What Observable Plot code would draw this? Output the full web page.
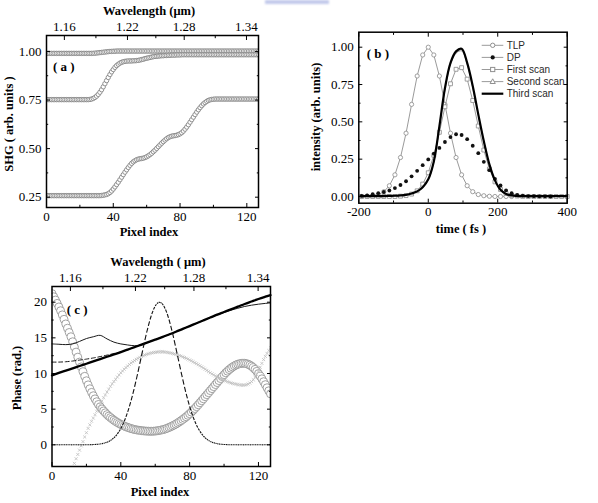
<!DOCTYPE html>
<html>
<head>
<meta charset="utf-8">
<script src="https://cdn.jsdelivr.net/npm/d3@7"></script>
<script src="https://cdn.jsdelivr.net/npm/@observablehq/plot@0.6"></script>
<style>
  body { margin: 0; background: #fff; }
  #page { position: relative; width: 598px; height: 503px; overflow: hidden; background: #fff; font-family: "Liberation Serif", serif; }
  #page svg { position: absolute; overflow: visible; background: transparent; }
  #page svg.panel { color: #000; }
  #page svg.panel text { font-family: "Liberation Serif", serif !important; font-size: 13px !important; fill: #000; }
  .t { position: absolute; white-space: nowrap; line-height: 1; color: #000; font-weight: bold; font-family: "Liberation Serif", serif; }
  .mark-stamp { position: absolute; left: 265px; top: 0; width: 64px; height: 4px; background: #b3bce6; filter: blur(1px); opacity: 0.8; }
</style>
</head>
<body>
<div id="page"><div class="mark-stamp"></div></div>
<script>
// ---------- shared axis data ----------
const pixelIndex = d3.range(128);
const wavelengthLabels = [1.16, 1.22, 1.28, 1.34];
const wavelengthAtIndex = [10.7, 48.5, 82.5, 119.8];
const wavelengthMinorAtIndex = [29.6, 65.5, 101.1];

// ---------- panel (a): SHG vs pixel index ----------
const shgTop = [
  0.99,0.99,0.99,0.99,0.99,0.99,0.99,0.99,0.99,0.99,
  0.99,0.99,0.99,0.99,0.99,0.99,0.99,0.99,0.99,0.99,
  0.99,0.99,0.99,0.99,0.99,0.99,0.99,0.99,
  0.9905,0.991,0.992,0.993,0.994,0.995,0.996,0.997,0.998,0.999,1.0,1.0,1.001,1.001,1.002,1.002,
  1.002,1.002,1.002,1.002,1.002,1.002,1.002,1.002,1.002,1.002,
  1.002,1.002,1.002,1.002,1.002,1.002,1.002,1.002,1.002,1.002,
  1.002,1.002,1.002,1.002,1.002,1.002,1.002,1.002,1.002,1.002,
  1.002,1.002,1.002,1.002,1.002,1.002,1.002,1.002,1.002,1.002,
  1.002,1.002,1.002,1.002,1.002,1.002,1.002,1.002,1.002,1.002,
  1.002,1.002,1.002,1.002,1.002,1.002,1.002,1.002,1.002,1.002,
  1.002,1.002,1.002,1.002,1.002,1.002,1.002,1.002,1.002,1.002,
  1.002,1.002,1.002,1.002,1.002,1.002,1.002,1.002,1.002,1.002,
  1.002,1.002,1.002,1.002
];
const shgMiddle = [
  0.752,0.752,0.752,0.752,0.752,0.752,0.752,0.752,0.752,0.752,
  0.752,0.752,0.752,0.752,0.752,0.752,0.752,0.752,0.752,0.752,
  0.752,0.752,0.752,0.752,0.752,0.752,
  0.753,0.755,0.758,0.763,0.77,0.779,0.79,0.803,0.818,0.834,
  0.85,0.866,0.881,0.895,0.907,0.918,0.927,0.934,0.94,0.944,
  0.947,0.949,0.95,0.951,0.951,0.951,0.952,0.952,0.953,0.954,
  0.956,0.958,0.96,0.963,0.965,0.967,0.969,0.971,0.973,0.974,
  0.975,0.976,0.977,0.978,0.978,0.979,0.979,0.98,0.98,0.981,
  0.981,0.981,0.982,0.982,0.982,
  0.983,0.983,0.983,0.983,0.983,0.983,0.983,0.983,0.983,0.983,
  0.983,0.983,0.983,0.983,0.983,0.983,0.983,0.983,0.983,0.983,
  0.983,0.983,0.983,0.983,0.983,0.983,0.983,0.983,0.983,0.983,
  0.983,0.983,0.983,0.983,0.983,0.983,0.983,0.983,0.983,0.983,
  0.983,0.983,0.983,0.983,0.983,0.983,0.983
];
const shgBottom = [
  0.258,0.258,0.258,0.258,0.258,0.258,0.258,0.258,0.258,0.258,
  0.258,0.258,0.258,0.258,0.258,0.258,0.258,0.258,0.258,0.258,
  0.258,0.258,0.258,0.258,0.258,0.258,0.258,0.258,0.258,0.258,
  0.258,0.258,0.258,
  0.259,0.26,0.262,0.264,0.268,0.274,0.282,
  0.292,0.303,0.315,0.327,0.34,0.353,0.366,0.379,0.391,0.403,
  0.414,0.424,0.432,0.438,0.443,0.446,0.448,0.449,0.451,0.454,
  0.458,0.463,0.469,0.476,0.484,0.492,0.501,0.51,0.519,0.528,
  0.536,0.544,0.551,0.557,0.561,0.564,0.566,0.567,0.569,0.572,
  0.576,0.582,0.59,0.6,0.611,0.623,0.636,0.649,0.662,0.675,
  0.688,0.7,0.711,0.721,0.73,0.737,0.743,0.748,0.751,0.753,
  0.754,
  0.755,0.755,0.755,0.755,0.755,0.755,0.755,0.755,0.755,0.755,
  0.755,0.755,0.755,0.755,0.755,0.755,0.755,0.755,0.755,0.755,
  0.755,0.755,0.755,0.755,0.755,0.755,0.755
];

// ---------- panel (b): temporal intensity ----------
const pulseTime = [-192,-176,-160,-144,-128,-112,-96,-80,-64,-48,-32,-16,0,16,32,48,64,80,96,112,128,144,160,176,192,208,224,240,256,272,288,304,320,336,352,368,384,400];
const tlp = [
  0,0.0015,0.005,0.013,0.032,0.072,0.145,0.261,0.424,0.617,
  0.807,0.948,1.0,0.948,0.807,0.617,0.424,0.261,0.145,0.072,
  0.032,0.013,0.005,0.0015,0,0,0,0,null,null,
  null,null,null,null,null,null,null,null
];
const dp = [
  0.004,0.008,0.015,0.022,0.03,0.04,0.056,0.077,0.102,0.135,
  0.172,0.21,0.248,0.287,0.325,0.365,0.398,0.417,0.412,0.384,
  0.34,0.29,0.232,0.176,0.118,0.074,0.041,0.022,0.011,0.006,
  0.003,0.002,0.001,0.001,0,null,null,null
];
const firstScan = [
  0,0,0,0,0,0,0,0.002,0.006,0.016,
  0.038,0.083,0.159,0.276,0.43,0.601,0.755,0.852,0.863,0.786,
  0.643,0.472,0.311,0.184,0.098,0.047,0.02,0.008,0.003,0.001,
  0,0,0,0,0,0,0,0
];
const secondScan = [
  0.003,0.003,0.003,0.003,0.003,0.004,0.005,0.007,0.011,0.019,
  0.033,0.06,0.112,0.23,0.462,0.715,0.885,0.96,0.975,0.885,
  0.73,0.545,0.368,0.214,0.108,0.045,0.017,0.007,0.003,0.003,
  0.003,0.003,0.003,0.003,0.003,0.003,0.003,0.003
];
const thirdScan = [
  0.003,0.003,0.003,0.003,0.003,0.004,0.005,0.007,0.011,0.02,
  0.034,0.062,0.115,0.235,0.47,0.725,0.895,0.972,0.99,0.895,
  0.74,0.55,0.37,0.215,0.108,0.045,0.017,0.007,0.003,0.003,
  0.003,0.003,0.003,0.003,0.003,0.003,0.003,0.003
];
const legendNames = ["TLP", "DP", "First scan", "Second scan", "Third scan"];
const legendSymbols = ["circle", "dot", "square", "triangle", "thick"];

// ---------- panel (c): phase vs pixel index ----------
const phaseCircles = [
  21.2,20.75,20.3,19.83,19.33,18.8,18.22,17.6,16.95,16.35,
  15.75,15.15,14.45,13.72,13.0,12.29,11.6,10.92,10.26,9.6,
  8.98,8.4,7.86,7.35,6.88,6.44,6.04,5.66,5.33,5.03,
  4.75,4.49,4.24,4.02,3.82,3.63,3.45,3.28,3.13,2.99,
  2.86,2.74,2.63,2.53,2.44,2.36,2.28,2.21,2.15,2.1,
  2.06,2.02,1.99,1.96,1.94,1.92,1.91,1.9,1.9,1.91,
  1.93,1.96,2.0,2.05,2.1,2.16,2.24,2.33,2.43,2.54,
  2.66,2.78,2.91,3.06,3.22,3.38,3.56,3.74,3.93,4.14,
  4.36,4.59,4.83,5.09,5.35,5.62,5.9,6.18,6.46,6.75,
  7.03,7.31,7.6,7.88,8.16,8.45,8.73,9.01,9.29,9.56,
  9.83,10.1,10.33,10.55,10.74,10.92,11.07,11.2,11.3,11.37,
  11.42,11.44,11.43,11.38,11.3,11.18,11.02,10.82,10.58,10.3,
  9.98,9.63,9.25,8.85,8.43,8.0,7.57,7.15
];
const spectrum = [
  0,0,0,0,0,0,0,0,0,0,
  0,0,0,0,0,0,0,0,0,0,
  0.008,0.012,0.017,0.025,0.035,0.048,0.066,0.09,0.12,0.16,
  0.22,0.28,0.37,0.48,0.61,0.78,0.99,1.23,1.53,1.88,
  2.28,2.76,3.3,3.92,4.61,5.38,6.23,7.14,8.12,9.16,
  10.24,11.35,12.47,13.58,14.67,15.72,16.69,17.57,18.34,18.98,
  19.47,19.81,19.98,19.98,19.81,19.47,18.98,18.34,17.57,16.69,
  15.72,14.67,13.58,12.47,11.35,10.24,9.16,8.12,7.14,6.23,
  5.38,4.61,3.92,3.3,2.76,2.28,1.88,1.53,1.23,0.99,
  0.78,0.61,0.48,0.37,0.28,0.22,0.16,0.12,0.09,0.066,
  0.048,0.035,0.025,0.017,0.012,0.008,
  0,0,0,0,0,0,0,0,0,0,
  0,0,0,0,0,0,0,0,0,0,
  0,0
];
const phaseGrey = [
  null,null,null,null,null,null,null,null,null,null,
  -4.45,-3.8,-3.2,-2.6,-1.95,-1.35,-0.75,-0.15,0.45,1.1,
  1.7,2.3,2.8,3.3,3.75,4.22,4.7,5.18,5.66,6.13,
  6.6,7.0,7.4,7.8,8.2,8.55,8.87,9.18,9.5,9.8,
  10.1,10.35,10.6,10.83,11.05,11.27,11.48,11.65,11.82,11.98,
  12.12,12.27,12.4,12.5,12.6,12.68,12.76,12.83,12.89,12.94,
  12.98,13.01,13.03,13.04,13.04,13.03,13.0,12.96,12.92,12.87,
  12.81,12.75,12.68,12.6,12.52,12.43,12.34,12.24,12.13,12.02,
  11.9,11.78,11.65,11.52,11.38,11.24,11.09,10.93,10.77,10.6,
  10.43,10.26,10.1,9.95,9.8,9.66,9.53,9.4,9.28,9.16,
  9.05,8.95,8.85,8.76,8.68,8.61,8.55,8.5,8.45,8.41,
  8.38,8.37,8.38,8.43,8.52,8.66,8.86,9.13,9.47,9.86,
  10.35,10.88,11.42,11.95,12.4,12.82,13.22,13.6
];
const lineIndex = [0,4,8,12,16,20,24,28,32,36,40,44,48,52,56,60,64,68,72,76,80,84,88,92,96,100,104,108,112,116,120,124,127];
const phaseThick = [9.75,10.08,10.4,10.72,11.05,11.37,11.7,12.02,12.35,12.67,13.0,13.35,13.7,14.05,14.4,14.75,15.1,15.47,15.85,16.25,16.65,17.05,17.45,17.85,18.25,18.62,19.0,19.37,19.75,20.1,20.45,20.77,21.0];
const phaseThin = [14.15,14.1,14.05,14.15,14.5,14.9,15.15,15.35,14.85,14.4,14.15,14.0,13.9,13.98,14.4,14.75,15.1,15.47,15.85,16.25,16.65,17.05,17.45,17.85,18.2,18.55,18.88,19.15,19.4,19.58,19.72,19.83,19.9];
const phaseDashed = [11.6,11.6,11.65,11.75,11.88,12.02,12.18,12.37,12.58,12.8,13.03,13.32,13.7,14.05,14.4,14.75,15.1,15.47,15.85,16.25,16.65,17.05,17.45,17.85,18.25,18.62,19.0,19.37,19.75,20.1,20.45,20.77,21.0];

// ---------- helpers ----------
const page = document.getElementById("page");
const blank = () => "";
const serif = "'Liberation Serif', 'Times New Roman', serif";

// Inward major/minor ticks on all four sides plus labels on the bottom and left.
function boxAxes({xMajor, xMinor, yMajor, yMinor, xFormat, yFormat, top}) {
  const T = 4, t = 2.2;
  const lbl = {fontFamily: serif, fontSize: 13, label: null};
  const marks = [
    Plot.axisX(xMajor, {anchor: "bottom", tickSize: 0, tickPadding: 4, tickFormat: xFormat, ...lbl}),
    Plot.axisX(xMajor, {anchor: "bottom", tickSize: T, dy: -T, tickFormat: blank, label: null}),
    Plot.axisX(xMinor, {anchor: "bottom", tickSize: t, dy: -t, tickFormat: blank, label: null}),
    Plot.axisY(yMajor, {anchor: "left", tickSize: 0, tickPadding: 5, tickFormat: yFormat, ...lbl}),
    Plot.axisY(yMajor, {anchor: "left", tickSize: T, dx: T, tickFormat: blank, label: null}),
    Plot.axisY(yMinor, {anchor: "left", tickSize: t, dx: t, tickFormat: blank, label: null}),
    Plot.axisY(yMajor, {anchor: "right", tickSize: T, dx: -T, tickFormat: blank, label: null}),
    Plot.axisY(yMinor, {anchor: "right", tickSize: t, dx: -t, tickFormat: blank, label: null})
  ];
  if (top === "wavelength") {
    const lab = new Map(wavelengthAtIndex.map((p, i) => [p, wavelengthLabels[i].toFixed(2)]));
    marks.push(
      Plot.axisX(wavelengthAtIndex, {anchor: "top", tickSize: 0, tickPadding: 5, tickFormat: (d) => lab.get(d), ...lbl}),
      Plot.axisX(wavelengthAtIndex, {anchor: "top", tickSize: T, dy: T, tickFormat: blank, label: null}),
      Plot.axisX(wavelengthMinorAtIndex, {anchor: "top", tickSize: t, dy: t, tickFormat: blank, label: null})
    );
  } else {
    marks.push(
      Plot.axisX(xMajor, {anchor: "top", tickSize: T, dy: T, tickFormat: blank, label: null}),
      Plot.axisX(xMinor, {anchor: "top", tickSize: t, dy: t, tickFormat: blank, label: null})
    );
  }
  marks.push(Plot.frame({stroke: "#000", strokeWidth: 1.5}));
  return marks;
}

function place(svg, left, top) {
  svg.classList.add("panel");
  svg.setAttribute("font-family", serif);
  svg.setAttribute("font-size", "13");
  d3.select(svg).selectAll("text")
    .attr("font-family", serif).attr("font-size", 13)
    .style("font-family", serif).style("font-size", "13px");
  svg.style.left = left + "px";
  svg.style.top = top + "px";
  page.appendChild(svg);
}

// Text placed by its baseline; line-height 1 puts the baseline 0.8375em below the top.
function text(str, {cx, baseline, size = 12.5, align = "center", left}) {
  const d = document.createElement("div");
  d.className = "t";
  d.textContent = str;
  d.style.fontSize = size + "px";
  d.style.top = (baseline - 0.8375 * size) + "px";
  if (align === "center") { d.style.left = cx + "px"; d.style.transform = "translateX(-50%)"; }
  else d.style.left = left + "px";
  page.appendChild(d);
}
function vtext(str, {cx, cy, size = 12.5}) {
  const d = document.createElement("div");
  d.className = "t";
  d.textContent = str;
  d.style.fontSize = size + "px";
  d.style.left = cx + "px";
  d.style.top = cy + "px";
  d.style.transform = "translate(-50%, -50%) rotate(-90deg)";
  page.appendChild(d);
}

// ---------- panel (a) ----------
const shgRows = [["top", shgTop], ["middle", shgMiddle], ["bottom", shgBottom]]
  .flatMap(([scan, vals]) => vals.map((v, i) => ({scan, i: pixelIndex[i], v})));

const plotA = Plot.plot({
  width: 270, height: 245,
  marginLeft: 46, marginRight: 12, marginTop: 35, marginBottom: 38,
  x: {domain: [0, 127]},
  y: {domain: [0.197, 1.082]},
  marks: [
    Plot.dot(shgRows, {x: "i", y: "v", r: 2.2, stroke: "#7f7f7f", strokeWidth: 0.85, fill: "#fff", clip: true}),
    ...boxAxes({xMajor: [0, 40, 80, 120], xMinor: [20, 60, 100], yMajor: [0.25, 0.5, 0.75, 1.0], yMinor: [0.375, 0.625, 0.875],
      xFormat: (d) => String(d), yFormat: d3.format(".2f"), top: "wavelength"})
  ]
});
place(plotA, 0, 0);

// ---------- panel (b) ----------
const rowsOf = (vals) => pulseTime.map((t, k) => ({t, v: vals[k]})).filter((d) => d.v != null);
const tlpRows = rowsOf(tlp), dpRows = rowsOf(dp), firstRows = rowsOf(firstScan),
      secondRows = rowsOf(secondScan), thirdRows = rowsOf(thirdScan);
const grey = "#8f8f8f";

const plotB = Plot.plot({
  width: 298, height: 245,
  marginLeft: 58.3, marginRight: 31.3, marginTop: 31.7, marginBottom: 42.3,
  x: {domain: [-200, 400]},
  y: {domain: [-0.045, 1.1005]},
  marks: [
    Plot.line(tlpRows, {x: "t", y: "v", stroke: grey, strokeWidth: 0.9}),
    Plot.dot(tlpRows, {x: "t", y: "v", r: 2.1, stroke: grey, strokeWidth: 0.85, fill: "#fff"}),
    Plot.line(firstRows, {x: "t", y: "v", stroke: grey, strokeWidth: 0.9}),
    Plot.dot(firstRows, {x: "t", y: "v", symbol: "square", r: 2.2, stroke: grey, strokeWidth: 0.85, fill: "#fff"}),
    Plot.line(secondRows, {x: "t", y: "v", stroke: grey, strokeWidth: 0.9, curve: "catmull-rom"}),
    Plot.dot(dpRows, {x: "t", y: "v", r: 1.9, fill: "#111"}),
    Plot.line(thirdRows, {x: "t", y: "v", stroke: "#000", strokeWidth: 2.2, curve: "catmull-rom"}),
    ...boxAxes({xMajor: [-200, 0, 200, 400], xMinor: [-100, 100, 300], yMajor: [0, 0.25, 0.5, 0.75, 1.0], yMinor: [0.125, 0.375, 0.625, 0.875],
      xFormat: (d) => String(d), yFormat: d3.format(".2f")})
  ]
});
place(plotB, 300, 0);

// legend for panel (b)
{
  const lg = d3.create("svg").attr("width", 110).attr("height", 66)
    .style("left", "478px").style("top", "38px")
    .style("font-family", "'Liberation Sans', Arial, sans-serif").style("font-size", "10px");
  legendNames.forEach((name, k) => {
    const y = 7.3 + 12.1 * k;
    const g = lg.append("g").attr("transform", `translate(0,${y})`);
    const sym = legendSymbols[k];
    g.append("line").attr("x1", 3.7).attr("x2", 25.3)
      .attr("stroke", sym === "thick" ? "#000" : grey).attr("stroke-width", sym === "thick" ? 2.2 : 0.9);
    if (sym === "circle") g.append("circle").attr("cx", 14.7).attr("r", 2.2).attr("fill", "#fff").attr("stroke", grey);
    if (sym === "dot") g.append("circle").attr("cx", 14.7).attr("r", 2.1).attr("fill", "#111");
    if (sym === "square") g.append("rect").attr("x", 12.6).attr("y", -2.1).attr("width", 4.2).attr("height", 4.2).attr("fill", "#fff").attr("stroke", grey);
    if (sym === "triangle") g.append("path").attr("d", "M14.7,-2.8L17.3,1.9L12.1,1.9Z").attr("fill", "#fff").attr("stroke", grey);
    g.append("text").attr("x", 28.7).attr("y", 3.6).attr("fill", "#2a2a2a").text(name);
  });
  page.appendChild(lg.node());
}

// ---------- panel (c) ----------
const circleRows = pixelIndex.map((i) => ({i, v: phaseCircles[i]}));
const greyRows = pixelIndex.map((i) => ({i, v: phaseGrey[i]})).filter((d) => d.v != null);
const specSegments = d3.pairs(pixelIndex.map((i) => ({i, v: spectrum[i]})));
const lineRows = (vals) => lineIndex.map((i, k) => ({i, v: vals[k]}));

const plotC = Plot.plot({
  width: 300, height: 253,
  marginLeft: 51.5, marginRight: 30, marginTop: 36, marginBottom: 37,
  x: {domain: [0, 127]},
  y: {domain: [-3.04, 22.2]},
  marks: [
    Plot.dot(circleRows, {x: "i", y: "v", r: 4, stroke: "#8a8a8a", strokeWidth: 0.8, fill: "#fff", clip: true}),
    Plot.dot(greyRows, {x: "i", y: "v", symbol: "times", r: 1.5, stroke: "#bdbdbd", strokeWidth: 0.8, clip: true}),
    Plot.line(lineRows(phaseDashed), {x: "i", y: "v", stroke: "#1a1a1a", strokeWidth: 1, strokeDasharray: "4,2.6", curve: "catmull-rom"}),
    Plot.line(lineRows(phaseThin), {x: "i", y: "v", stroke: "#1a1a1a", strokeWidth: 1, curve: "catmull-rom"}),
    Plot.line(lineRows(phaseThick), {x: "i", y: "v", stroke: "#000", strokeWidth: 2.3, curve: "catmull-rom"}),
    Plot.link(specSegments, {x1: (d) => d[0].i, y1: (d) => d[0].v, x2: (d) => d[1].i, y2: (d) => d[1].v,
      stroke: "#111", strokeWidth: 1.1, strokeDasharray: "0.7 0.3"}),
    ...boxAxes({xMajor: [0, 40, 80, 120], xMinor: [20, 60, 100], yMajor: [0, 5, 10, 15, 20], yMinor: [2.5, 7.5, 12.5, 17.5],
      xFormat: (d) => String(d), yFormat: (d) => String(d), top: "wavelength"})
  ]
});
// each spectrum segment restarts its dash pattern, giving long dashes on the steep flanks
d3.select(plotC).selectAll('g[aria-label="link"] path').attr("pathLength", 1);
place(plotC, 0, 250);

// ---------- titles and panel tags ----------
text("Wavelength (\u03bcm)", {cx: 149, baseline: 15});
text("Pixel index", {cx: 149, baseline: 236});
vtext("SHG ( arb. units )", {cx: 9, cy: 124});
text("( a )", {left: 53, baseline: 71, size: 13, align: "left"});

text("time ( fs )", {cx: 461, baseline: 233.5});
vtext("intensity (arb. units)", {cx: 315.5, cy: 117});
text("( b )", {left: 366.7, baseline: 57.5, size: 13, align: "left"});

text("Wavelength ( \u03bcm)", {cx: 158, baseline: 266.7});
text("Pixel index", {cx: 160, baseline: 496});
vtext("Phase (rad.)", {cx: 17, cy: 378});
text("( c )", {left: 66.7, baseline: 314, size: 13, align: "left"});
</script>
</body>
</html>
